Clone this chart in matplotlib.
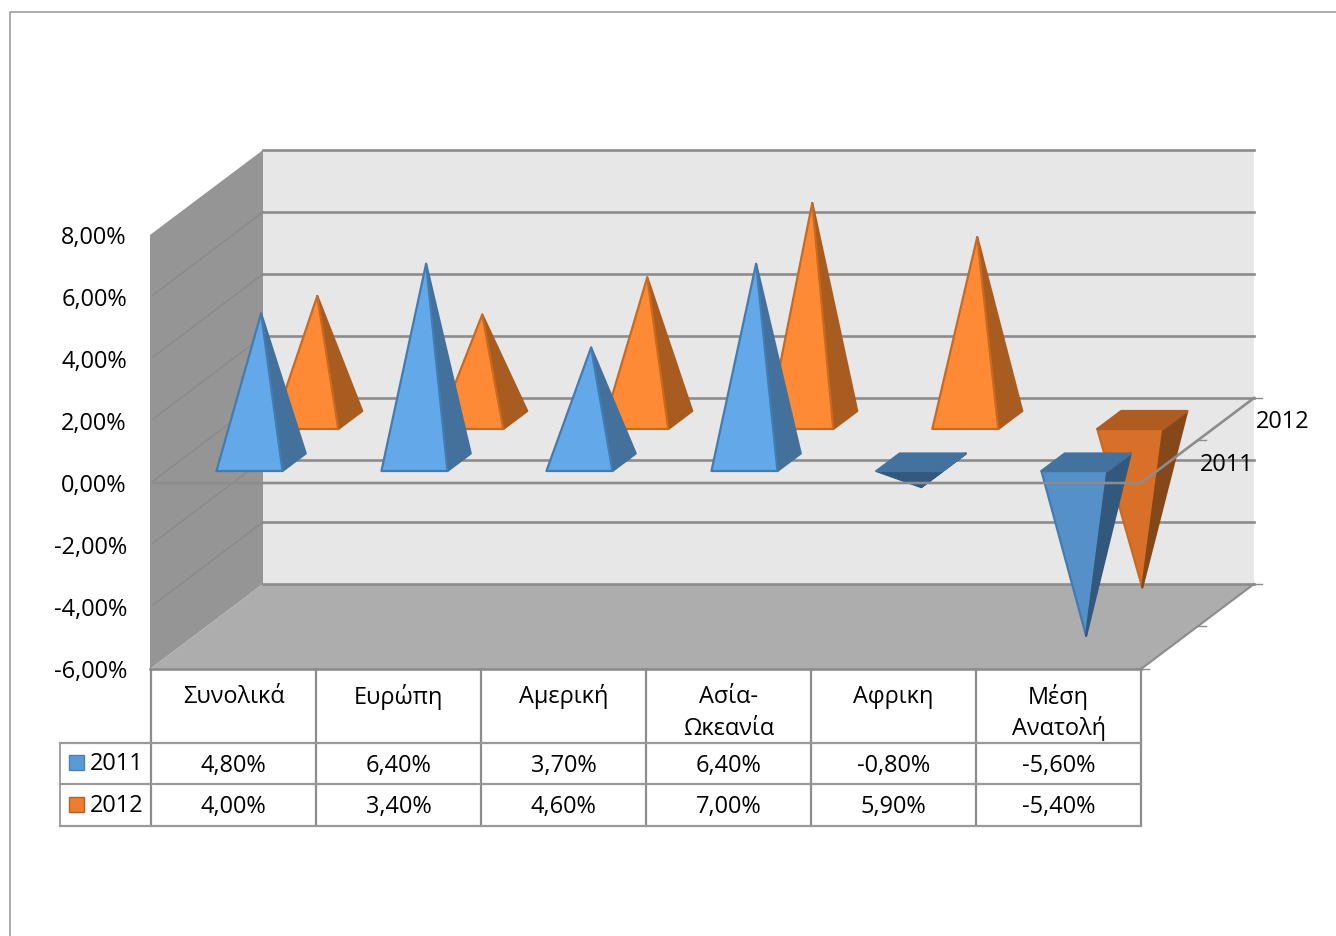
import matplotlib
matplotlib.use("Agg")
import matplotlib.pyplot as plt
from matplotlib.patches import Polygon, Rectangle

plt.rcParams["font.family"] = ["Open Sans", "DejaVu Sans"]

categories = ["Συνολικά", "Ευρώπη", "Αμερική", "Ασία-\nΩκεανία", "Αφρικη", "Μέση\nΑνατολή"]
series_names = ["2011", "2012"]
values_2011 = [4.8, 6.4, 3.7, 6.4, -0.8, -5.6]
values_2012 = [4.0, 3.4, 4.6, 7.0, 5.9, -5.4]
y_ticks = [8, 6, 4, 2, 0, -2, -4, -6]

# pixel layout of the fake 3D box
LEFT, RIGHT = 151, 1141
Y_ZERO, PX_PER_UNIT = 483, 31
DEPTH_Y, DEPTH_X = 85, 113
CAT_W = 165
HALF_W = 33
GRID = "#8c8c8c"
FS = 16.9


def pt(cat, value, depth=0):
    """Project (category slot, value, depth in px) to picture coords."""
    return (LEFT + (cat + 0.5) * CAT_W + depth * DEPTH_X / DEPTH_Y,
            Y_ZERO - value * PX_PER_UNIT - depth)


def fmt(v):
    return f"{v:.2f}%".replace(".", ",")


def face(ax, pts, fc, ec=None, z=3):
    ax.add_patch(Polygon(pts, closed=True, facecolor=fc, edgecolor=ec or fc,
                         linewidth=1.6, joinstyle="round", zorder=z))


def pyramid(ax, i, v, d0, d1, up, down, edge, z):
    """One pyramid standing on (or hanging from) the zero plane."""
    dx = HALF_W
    x0, y0 = pt(i, 0, d0)
    x1, y1 = pt(i, 0, d1)
    fl, fr = (x0 - dx, y0), (x0 + dx, y0)
    bl, br = (x1 - dx, y1), (x1 + dx, y1)
    apex = pt(i, v, (d0 + d1) / 2)
    if v >= 0:
        face(ax, [fr, br, apex], up[1], up[1], z)
        face(ax, [fl, fr, apex], up[0], edge, z)
    else:
        # shallow hanging pyramids catch almost no light on the front
        front = down[2] if abs(v) < 1 else down[0]
        face(ax, [fl, fr, apex], front, front if abs(v) < 1 else edge, z)
        face(ax, [fr, br, apex], down[2], down[2], z)
        face(ax, [fl, fr, br, bl], down[1], down[1], z)


fig = plt.figure(figsize=(13.36, 9.37), dpi=100)
ax = fig.add_axes([0, 0, 1, 1])
ax.set_xlim(0, 1336)
ax.set_ylim(936, -1)
ax.axis("off")

# outer chart frame, cut off by the page on two sides
ax.plot([10, 10, 1336], [937, 12, 12], color="#a6a6a6", lw=1.3, zorder=1)

y_top, y_bot = pt(0, y_ticks[0])[1], pt(0, y_ticks[-1])[1]
back_r = RIGHT + DEPTH_X

# walls and floor
ax.add_patch(Polygon([(150, y_top), (263, y_top - DEPTH_Y), (263, y_bot - DEPTH_Y), (150, y_bot)],
                     facecolor="#959595", edgecolor="none", zorder=1))
ax.add_patch(Rectangle((263, y_top - DEPTH_Y), back_r - 263, y_bot - y_top,
                       facecolor="#e7e7e7", edgecolor="none", zorder=1))
ax.add_patch(Polygon([(150, y_bot), (263, y_bot - DEPTH_Y), (back_r, y_bot - DEPTH_Y), (RIGHT, y_bot)],
                     facecolor="#adadad", edgecolor="none", zorder=1))

# gridlines on both walls
for t in y_ticks:
    y = pt(0, t)[1]
    ax.plot([263, back_r], [y - DEPTH_Y] * 2, color=GRID, lw=1.9, zorder=2)
    if t not in (y_ticks[0], y_ticks[-1]):
        ax.plot([153, 263], [y - 2, y - DEPTH_Y], color="#888888", lw=0.9, zorder=2)
    ax.text(127, y + 2, fmt(t), ha="right", va="center", fontsize=FS, color="black")
ax.plot([RIGHT, back_r], [y_bot, y_bot - DEPTH_Y], color=GRID, lw=1.5, zorder=2)
ax.plot([150, RIGHT], [y_bot, y_bot], color=GRID, lw=1.9, zorder=2)

# depth axis ticks on the right of the floor and the zero plane
for y in (Y_ZERO, y_bot):
    ax.plot([RIGHT, RIGHT + 8], [y, y], color=GRID, lw=1, zorder=2)
    ax.plot([RIGHT + 56, RIGHT + 65], [y - 43, y - 43], color=GRID, lw=1, zorder=2)
    ax.plot([back_r, back_r + 8], [y - DEPTH_Y, y - DEPTH_Y], color=GRID, lw=1, zorder=2)

up_2011 = ("#63a9e9", "#44719b")
down_2011 = ("#5590c8", "#44729f", "#33587e")
up_2012 = ("#ff8a36", "#a95c20")
down_2012 = ("#d9702a", "#b05c20", "#85481a")

for i, v in enumerate(values_2012):
    pyramid(ax, i, v, 54, 72, up_2012, down_2012, "#c96a22", 3)
for i, v in enumerate(values_2011):
    pyramid(ax, i, v, 12, 29.5, up_2011, down_2011, "#437cb0", 4)

# zero plane outline runs over the marks
ax.plot([153, RIGHT, back_r], [Y_ZERO, Y_ZERO, Y_ZERO - DEPTH_Y], color=GRID, lw=1.9, zorder=5)

# series names along the depth axis
ax.text(1227, 464, series_names[0], ha="center", va="center", fontsize=FS, zorder=6)
ax.text(1283, 421, series_names[1], ha="center", va="center", fontsize=FS, zorder=6)

# data table under the chart
row_y = [743, 784, 826]
for k in range(len(categories) + 1):
    x = LEFT + k * CAT_W
    ax.plot([x, x], [y_bot, row_y[-1]], color=GRID, lw=1.6, zorder=2)
for y in row_y:
    ax.plot([60, RIGHT], [y, y], color="#9a9a9a", lw=1.6, zorder=2)
ax.plot([60, 60], [row_y[0], row_y[-1]], color="#9a9a9a", lw=1.3, zorder=2)

for i, name in enumerate(categories):
    cx = LEFT + (i + 0.5) * CAT_W
    for j, line in enumerate(name.split("\n")):
        ax.text(cx, 696 + j * 32, line, ha="center", va="center", fontsize=FS)
    ax.text(cx, 765, fmt(values_2011[i]), ha="center", va="center", fontsize=FS)
    ax.text(cx, 806, fmt(values_2012[i]), ha="center", va="center", fontsize=FS)

key_colors = [("#5b9bd5", "#4a7fb0"), ("#ed7d31", "#b85f22")]
for (fc, ec), name, y in zip(key_colors, series_names, (763, 804.5)):
    ax.add_patch(Rectangle((69, y - 8), 15, 15, facecolor=fc, edgecolor=ec, linewidth=1, zorder=3))
    ax.text(117, y + 0.5, name, ha="center", va="center", fontsize=FS)

fig.savefig("out.png", dpi=100)
